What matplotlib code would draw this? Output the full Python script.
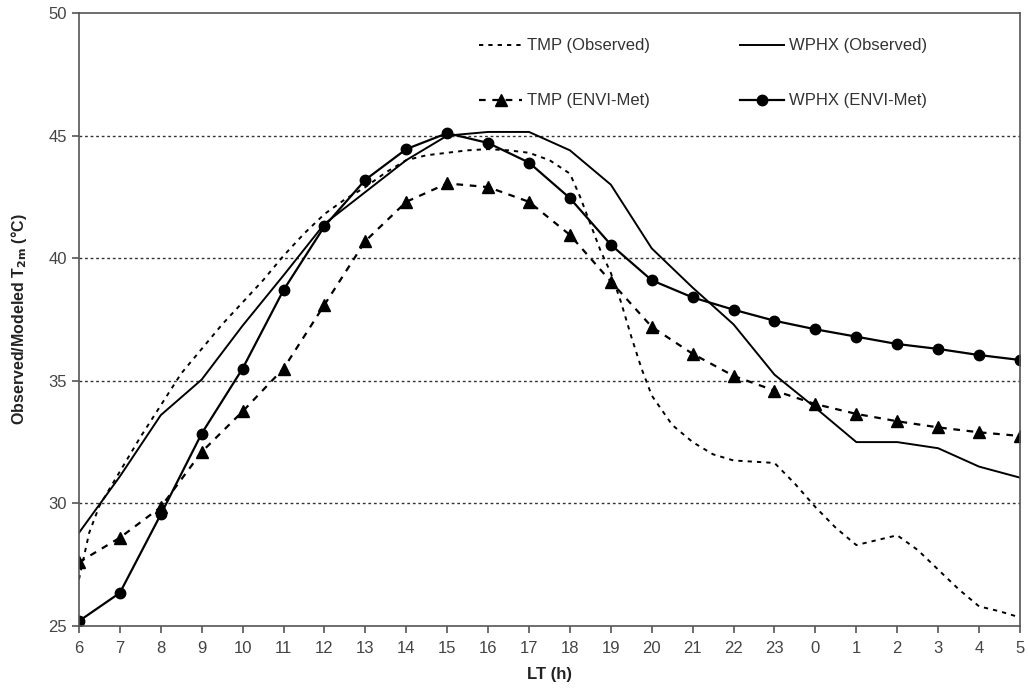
import numpy as np
import matplotlib
matplotlib.use("Agg")
import matplotlib.pyplot as plt

plt.rcParams["font.family"] = ["Liberation Sans", "DejaVu Sans"]

# local time labels, 6 h to 5 h next day
hour_labels = ["6", "7", "8", "9", "10", "11", "12", "13", "14", "15", "16", "17",
               "18", "19", "20", "21", "22", "23", "0", "1", "2", "3", "4", "5"]

# modeled values (hourly)
wphx_envi = [25.2, 26.35, 29.55, 32.85, 35.5, 38.7, 41.3, 43.2, 44.45, 45.1, 44.7, 43.9,
             42.45, 40.55, 39.1, 38.4, 37.9, 37.45, 37.1, 36.8, 36.5, 36.3, 36.05, 35.85]
tmp_envi = [27.6, 28.6, 29.85, 32.1, 33.75, 35.5, 38.1, 40.7, 42.3, 43.05, 42.9, 42.3,
            40.95, 39.05, 37.2, 36.1, 35.2, 34.6, 34.05, 33.65, 33.35, 33.1, 32.9, 32.75]

# observed WPHX (hourly)
wphx_obs = [28.8, 31.1, 33.6, 35.05, 37.25, 39.3, 41.4, 42.7, 44.0, 45.0, 45.15, 45.15,
            44.4, 43.0, 40.4, 38.8, 37.3, 35.25, 33.9, 32.5, 32.5, 32.25, 31.5, 31.05]

# observed TMP (half-hourly)
tmp_obs_t = [0.0, 0.25, 0.5, 1.0, 1.5, 2.0, 2.5, 3.0, 3.5, 4.0, 4.5, 5.0, 5.5, 6.0, 6.5,
             7.0, 7.5, 8.0, 8.5, 9.0, 9.5, 10.0, 10.5, 11.0, 11.5, 12.0, 12.25, 12.5,
             12.75, 13.0, 13.25, 13.5, 13.75, 14.0, 14.5, 15.0, 15.5, 16.0, 16.5, 17.0,
             17.5, 18.0, 18.5, 19.0, 19.5, 20.0, 20.5, 21.0, 21.5, 22.0, 22.5, 23.0]
tmp_obs = [26.9, 28.8, 29.9, 31.3, 32.7, 34.0, 35.3, 36.3, 37.3, 38.2, 39.1, 40.1, 41.0,
           41.8, 42.4, 42.9, 43.5, 44.0, 44.2, 44.3, 44.4, 44.45, 44.4, 44.3, 44.0, 43.45,
           42.5, 41.4, 40.3, 39.4, 38.2, 36.8, 35.5, 34.4, 33.2, 32.5, 32.0, 31.75, 31.7,
           31.65, 30.8, 29.85, 29.0, 28.3, 28.5, 28.7, 28.1, 27.3, 26.5, 25.8, 25.6, 25.35]

x = np.arange(len(hour_labels))

fig = plt.figure(figsize=(10.28, 6.93), dpi=100)
ax = fig.add_axes([0.0768, 0.0967, 0.9154, 0.8845])

l_tmp_obs, = ax.plot(tmp_obs_t, tmp_obs, color="black", lw=1.4, linestyle=(0, (2.2, 2.6)),
                     label="TMP (Observed)")
l_wphx_obs, = ax.plot(x, wphx_obs, color="black", lw=1.4, label="WPHX (Observed)")
l_tmp_envi, = ax.plot(x, tmp_envi, color="black", lw=1.6, linestyle=(0, (3, 3)), marker="^",
                      markersize=8.5, label="TMP (ENVI-Met)")
l_wphx_envi, = ax.plot(x, wphx_envi, color="black", lw=1.6, marker="o", markersize=7.5,
                       label="WPHX (ENVI-Met)")

ax.set_xlim(0, 23)
ax.set_ylim(25, 50)
ax.set_xticks(x)
ax.set_xticklabels(hour_labels)
ax.set_yticks([25, 30, 35, 40, 45, 50])

for yv in [30, 35, 40, 45]:
    ax.axhline(yv, color="#333333", lw=1.0, linestyle=(0, (2, 2)), zorder=0)

for sp in ax.spines.values():
    sp.set_color("#555555")
    sp.set_linewidth(1.2)
ax.tick_params(axis="both", colors="#555555", labelsize=12, length=5, width=1.2,
               direction="out", labelcolor="#444444")
ax.tick_params(axis="x", pad=6)

ax.set_xlabel("LT (h)", fontsize=12, fontweight="bold", color="#222222", labelpad=8)
ax.set_ylabel("Observed/Modeled T$_{\\mathbf{2m}}$ (°C)", fontsize=11.5,
              fontweight="bold", color="#222222", labelpad=14)

# column-major order so rows read TMP/WPHX side by side
ax.legend([l_tmp_obs, l_tmp_envi, l_wphx_obs, l_wphx_envi],
          ["TMP (Observed)", "TMP (ENVI-Met)", "WPHX (Observed)", "WPHX (ENVI-Met)"],
          loc="upper right", bbox_to_anchor=(0.917, 0.983), ncol=2, frameon=False,
          fontsize=12, handlelength=2.6, handletextpad=0.3, columnspacing=5.4,
          labelspacing=2.4, labelcolor="#333333")

fig.savefig("out.png", dpi=100)
